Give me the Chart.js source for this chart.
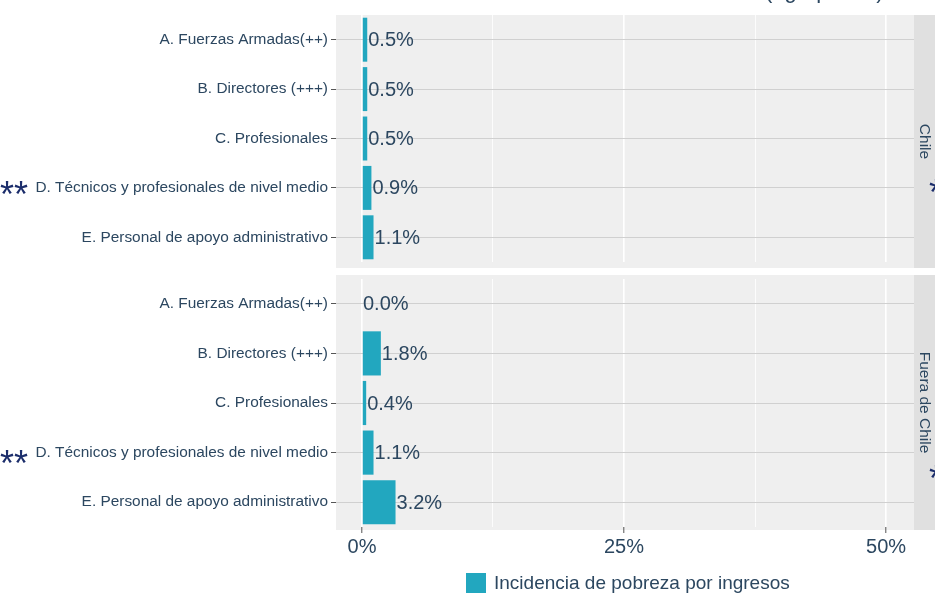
<!DOCTYPE html>
<html>
<head>
<meta charset="utf-8">
<script src="https://cdn.jsdelivr.net/npm/chart.js@4.4.1/dist/chart.umd.min.js"></script>
<style>
  html, body { margin: 0; padding: 0; background: #ffffff; overflow: hidden; }
  #wrap { position: relative; width: 935px; height: 593px; font-family: "Liberation Sans", Arial, sans-serif; }
  #wrap canvas { position: absolute; left: 0; top: 0; }
  .star { position: absolute; color: #1b2d6b; font-size: 36px; line-height: 1; }
  #legend { position: absolute; left: 466px; top: 572px; display: flex; align-items: center; color: #2c4760; font-size: 19px; }
  #legend span.box { display: inline-block; width: 20px; height: 20px; background: #22a7bf; margin-right: 8px; }
  #topnote { position: absolute; left: 765px; top: -22px; font-size: 22px; color: #2c4760; }
</style>
</head>
<body>
<div id="wrap">
  <canvas id="chile" width="935" height="593"></canvas>
  <canvas id="fuera" width="935" height="593"></canvas>
  <div id="topnote">(agrupados)</div>
  <div class="star" style="left:0px; top:177px;">**</div>
  <div class="star" style="left:0px; top:446px;">**</div>
  <div class="star" style="left:929px; top:175px;">*</div>
  <div class="star" style="left:929px; top:461px;">*</div>
  <div id="legend"><span class="box"></span>Incidencia de pobreza por ingresos</div>
</div>
<script>
// data
const categories = [
  "A. Fuerzas Armadas(++)",
  "B. Directores (+++)",
  "C. Profesionales",
  "D. Técnicos y profesionales de nivel medio",
  "E. Personal de apoyo administrativo"
];
const chileValues = [0.5, 0.5, 0.5, 0.9, 1.1];
const fueraValues = [0.0, 1.8, 0.4, 1.1, 3.2];
const xTickValues = [0, 12.5, 25, 37.5, 50];
const facetLabels = ["Chile", "Fuera de Chile"];
const seriesLabel = "Incidencia de pobreza por ingresos";

const barColor = "#22a7bf";
const textColor = "#2c4760";

// panel background, strip and value labels
const panelPlugin = {
  id: "panel",
  beforeDraw(chart) {
    const a = chart.chartArea, ctx = chart.ctx;
    const o = chart.options.plugins.panel;
    const top = o.bgTop, bottom = o.bgBottom;
    ctx.save();
    ctx.fillStyle = "#efefef";
    ctx.fillRect(a.left, top, a.right - a.left, bottom - top);
    // strip
    ctx.fillStyle = "#e0e0e0";
    ctx.fillRect(a.right, top, 21, bottom - top);
    ctx.translate(a.right + 10.5, (top + bottom) / 2);
    ctx.rotate(Math.PI / 2);
    ctx.fillStyle = textColor;
    ctx.font = "15.5px 'Liberation Sans', Arial, sans-serif";
    ctx.textAlign = "center";
    ctx.textBaseline = "middle";
    ctx.fillText(o.strip, 0, 0);
    ctx.restore();
  },
  afterDatasetsDraw(chart) {
    const ctx = chart.ctx;
    const meta = chart.getDatasetMeta(0);
    const vals = chart.data.datasets[0].data;
    ctx.save();
    ctx.fillStyle = textColor;
    ctx.font = "20px 'Liberation Sans', Arial, sans-serif";
    ctx.textAlign = "left";
    ctx.textBaseline = "middle";
    meta.data.forEach((el, i) => {
      ctx.fillText(vals[i].toFixed(1) + "%", el.x + 1, el.y + 1);
    });
    ctx.restore();
  }
};

function makeChart(id, values, strip, bgTop, bgBottom, padTop, padBottom, showX) {
  return new Chart(document.getElementById(id), {
    type: "bar",
    data: {
      labels: categories,
      datasets: [{
        label: seriesLabel,
        data: values,
        backgroundColor: barColor,
        categoryPercentage: 1,
        barPercentage: 0.89
      }]
    },
    options: {
      indexAxis: "y",
      responsive: false,
      animation: false,
      layout: { padding: { left: 0, right: 21, top: padTop, bottom: padBottom } },
      plugins: {
        legend: { display: false },
        tooltip: { enabled: false },
        panel: { strip: strip, bgTop: bgTop, bgBottom: bgBottom }
      },
      scales: {
        x: {
          type: "linear",
          min: -2.48,
          max: 52.67,
          afterBuildTicks: s => { s.ticks = xTickValues.map(v => ({ value: v })); },
          afterFit: s => { s.height = showX ? 35 : 0; },
          border: { display: false },
          grid: {
            color: "#ffffff",
            lineWidth: c => (c.tick && c.tick.value % 25 === 0) ? 1.6 : 0.8,
            drawTicks: showX,
            tickLength: 6,
            tickColor: c => (c.tick && c.tick.value % 25 === 0) ? "#555555" : "rgba(0,0,0,0)",
            tickWidth: 1
          },
          ticks: {
            display: showX,
            padding: 2,
            color: textColor,
            font: { size: 20, family: "'Liberation Sans', Arial, sans-serif" },
            callback: v => (v % 25 === 0 ? v + "%" : "")
          }
        },
        y: {
          afterFit: s => { s.width = 336; },
          border: { display: false },
          grid: {
            offset: false,
            color: "#d0d0d0",
            lineWidth: 1,
            tickLength: 5,
            tickColor: "#555555"
          },
          ticks: {
            padding: 3,
            color: textColor,
            font: { size: 15.4, family: "'Liberation Sans', Arial, sans-serif" }
          }
        }
      }
    },
    plugins: [panelPlugin]
  });
}

// chart areas: panel 1 y 15..262 (bg to 268), panel 2 y 279..527 (bg 275..530)
makeChart("chile", chileValues, facetLabels[0], 15, 268, 15, 593 - 262, false);
makeChart("fuera", fueraValues, facetLabels[1], 275, 530, 279, 593 - 527 - 35, true);
</script>
</body>
</html>
